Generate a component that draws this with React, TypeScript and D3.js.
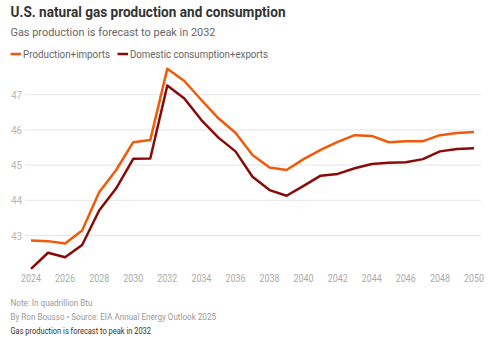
import React from "react";
import * as d3 from "d3";

const years = d3.range(2024, 2051);
const production = [42.86, 42.84, 42.77, 43.14, 44.23, 44.86, 45.65, 45.71, 47.74, 47.39, 46.85, 46.33, 45.92, 45.29, 44.93, 44.86, 45.17, 45.43, 45.66, 45.85, 45.83, 45.65, 45.68, 45.68, 45.85, 45.91, 45.94];
const consumption = [42.05, 42.51, 42.38, 42.73, 43.71, 44.34, 45.18, 45.19, 47.26, 46.89, 46.28, 45.78, 45.39, 44.67, 44.29, 44.13, 44.41, 44.70, 44.75, 44.91, 45.03, 45.07, 45.08, 45.17, 45.39, 45.46, 45.48];
const yTicks = [43, 44, 45, 46, 47];
const xTicks = d3.range(2024, 2051, 2);

const FONT = "Roboto, 'Noto Sans', sans-serif";

export default function App() {
  const W = 500, H = 342;
  const x = d3.scaleLinear().domain([2024, 2050]).range([31, 474]);
  const y = d3.scaleLinear().domain([43, 47]).range([235.5, 94.7]);
  const line = (vals: number[]) =>
    d3.line<number>().x((_, i) => x(years[i])).y((d) => y(d))(vals) || "";
  const T = (props: any) => <text lengthAdjust="spacingAndGlyphs" {...props} />;
  return (
    <svg width={W} height={H} style={{ position: "absolute", left: 0, top: 0 }} fontFamily={FONT}>
      <rect width={W} height={H} fill="#fff" />
      <T x={10.5} y={17} fontSize={14} fontWeight={700} fill="#333" textLength={275}>U.S. natural gas production and consumption</T>
      <T x={10.5} y={35.5} fontSize={11.5} fill="#666" textLength={205}>Gas production is forecast to peak in 2032</T>
      <line x1={10.5} x2={21} y1={54} y2={54} stroke="#f05a0a" strokeWidth={2.5} />
      <T x={23} y={57.5} fontSize={10.5} fill="#666" textLength={87}>Production+imports</T>
      <line x1={117.5} x2={128} y1={54} y2={54} stroke="#8a0a0a" strokeWidth={2.5} />
      <T x={130} y={57.5} fontSize={10.5} fill="#666" textLength={138}>Domestic consumption+exports</T>
      {yTicks.map((t) => (
        <g key={t}>
          <line x1={25} x2={481} y1={y(t)} y2={y(t)} stroke="#e6e6e6" strokeWidth={1} />
          <text x={11} y={y(t) + 4} fontSize={10} fill="#b8b8b8">{t}</text>
        </g>
      ))}
      {xTicks.map((t) => (
        <T key={t} x={x(t)} y={282} fontSize={10} fill="#aaa" textAnchor="middle" textLength={20}>{t}</T>
      ))}
      <path d={line(production)} fill="none" stroke="#f05a0a" strokeWidth={2.5} strokeLinejoin="round" />
      <path d={line(consumption)} fill="none" stroke="#8a0a0a" strokeWidth={2.5} strokeLinejoin="round" />
      <T x={10.5} y={305.5} fontSize={8.8} fill="#999" textLength={82}>Note: In quadrillion Btu</T>
      <T x={10.5} y={320} fontSize={8.8} fill="#999" textLength={205.5}>By Ron Bousso • Source: EIA Annual Energy Outlook 2025</T>
      <T x={10.5} y={333.5} fontSize={8.8} fill="#333" textLength={140.5}>Gas production is forecast to peak in 2032</T>
    </svg>
  );
}
